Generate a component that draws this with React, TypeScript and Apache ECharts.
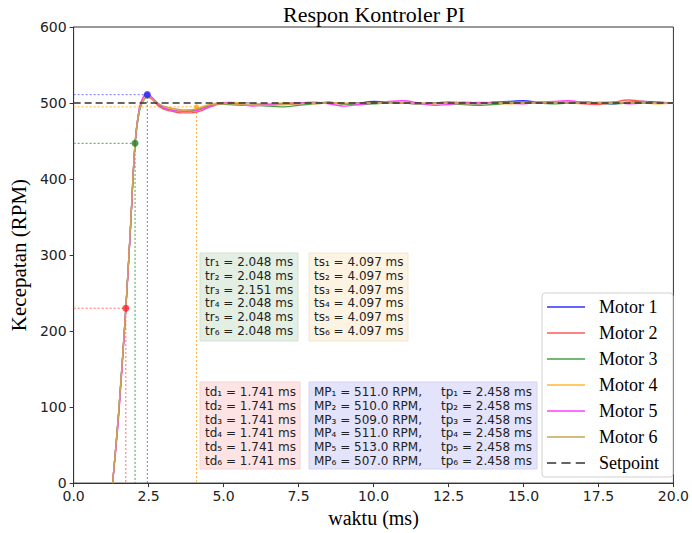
import { useEffect, useRef } from "react";
import * as echarts from "echarts";

// time axis (ms)
const TIME = [1.3, 1.5, 1.741, 1.9, 2.048, 2.2, 2.35, 2.458, 2.6, 2.8, 3.0, 3.3, 3.6, 3.9, 4.2, 4.5, 4.8, 5.2, 5.6, 6.0, 6.5, 7.0, 7.5, 8.0, 8.5, 9.0, 9.5, 10.0, 10.5, 11.0, 11.5, 12.0, 12.5, 13.0, 13.5, 14.0, 14.5, 15.0, 15.5, 16.0, 16.5, 17.0, 17.5, 18.0, 18.5, 19.0, 19.5, 20.0];

const MOTOR_1 = [0, 92, 230, 340, 447, 494, 508, 511, 507, 499, 494, 491, 490, 490, 492, 496, 499, 500, 500, 499, 498, 499, 500, 500, 501, 499, 500, 502, 501, 500, 499, 500, 501, 500, 499, 501, 502, 503, 501, 500, 500, 501, 500, 499, 501, 502, 501, 500];
const MOTOR_2 = [0, 90, 229, 338, 446, 492, 506, 510, 506, 497, 492, 489, 487, 487, 489, 494, 498, 500, 500, 499, 499, 498, 499, 500, 500, 499, 499, 500, 501, 500, 500, 499, 500, 501, 500, 499, 500, 501, 500, 501, 500, 499, 498, 501, 504, 502, 500, 500];
const MOTOR_3 = [0, 93, 231, 338, 444, 490, 505, 509, 506, 499, 494, 491, 490, 490, 493, 497, 499, 498, 497, 497, 496, 495, 497, 499, 500, 499, 498, 499, 500, 500, 499, 500, 499, 498, 497, 498, 500, 501, 500, 499, 500, 501, 500, 499, 500, 501, 500, 500];
const MOTOR_4 = [0, 91, 230, 339, 447, 493, 507, 511, 507, 500, 495, 492, 490, 491, 494, 498, 500, 501, 500, 499, 499, 500, 500, 499, 500, 500, 499, 500, 500, 501, 500, 499, 500, 500, 501, 500, 499, 500, 501, 500, 502, 501, 500, 500, 501, 500, 499, 500];
const MOTOR_5 = [0, 86, 228, 337, 446, 495, 510, 513, 508, 500, 494, 490, 489, 489, 491, 495, 499, 500, 498, 496, 498, 499, 500, 501, 499, 496, 498, 500, 502, 503, 500, 497, 498, 500, 500, 501, 500, 499, 501, 502, 503, 501, 500, 501, 499, 500, 501, 500];
const MOTOR_6 = [0, 92, 231, 341, 448, 492, 504, 507, 505, 500, 496, 493, 491, 491, 493, 497, 499, 499, 498, 497, 497, 498, 499, 500, 500, 499, 500, 500, 501, 500, 499, 500, 500, 499, 499, 500, 501, 500, 500, 501, 500, 500, 501, 501, 500, 501, 500, 500];

const MOTOR_NAMES = ["Motor 1", "Motor 2", "Motor 3", "Motor 4", "Motor 5", "Motor 6"];
const MOTOR_COLORS = ["#3030ff", "#ff5a5a", "#45a045", "#ffb833", "#ff40ff", "#c9a555"];
const SETPOINT = 500;

// characteristic points
const TD = 1.741;
const TD_Y = 230;
const TR = 2.048;
const TR_Y = 447;
const TP = 2.458;
const MP_Y = 511;
const TS = 4.097;
const TS_Y = 495;

const TR_VALUES = ["2.048", "2.048", "2.151", "2.048", "2.048", "2.048"];
const TS_VALUES = ["4.097", "4.097", "4.097", "4.097", "4.097", "4.097"];
const TD_VALUES = ["1.741", "1.741", "1.741", "1.741", "1.741", "1.741"];
const MP_VALUES = ["511.0", "510.0", "509.0", "511.0", "513.0", "507.0"];
const TP_VALUES = ["2.458", "2.458", "2.458", "2.458", "2.458", "2.458"];
const SUB = ["₁", "₂", "₃", "₄", "₅", "₆"];

const LINE_ICON = "path://M0,0H38V1.5H0Z";
const DASH_ICON = "path://M0,0H9V1.5H0Z M14,0H23V1.5H14Z M28,0H37V1.5H28Z";

export default function App() {
  const ref = useRef<HTMLDivElement>(null);
  useEffect(() => {
    document.body.style.margin = "0";
    const chart = echarts.init(ref.current!, undefined, { renderer: "svg" });
    const motors = [MOTOR_1, MOTOR_2, MOTOR_3, MOTOR_4, MOTOR_5, MOTOR_6];

    const helper = (pts: number[][], color: string) => ({
      type: "line",
      data: pts,
      symbol: "none",
      silent: true,
      lineStyle: { color, width: 1, type: [2, 2] },
      z: 1,
    });
    const dot = (x: number, y: number, color: string, size: number) => ({
      type: "scatter",
      data: [[x, y]],
      symbolSize: size,
      itemStyle: { color },
      silent: true,
      z: 5,
    });

    const boxText = (lines: string[], x: number, y: number) => ({
      type: "text",
      x,
      y,
      z: 10,
      style: {
        text: lines.join("\n"),
        fontFamily: "DejaVu Sans",
        fontSize: 12,
        lineHeight: 13.8,
        fill: "#222",
        align: "left",
        verticalAlign: "top",
      },
    });
    const boxRect = (x: number, y: number, w: number, h: number, fill: string, stroke: string) => ({
      type: "rect",
      z: 9,
      shape: { x, y, width: w, height: h },
      style: { fill, stroke, lineWidth: 1 },
    });

    chart.setOption({
      animation: false,
      grid: { left: 71, right: 15, top: 27, bottom: 43, show: true, borderColor: "#333", borderWidth: 1, backgroundColor: "transparent" },
      xAxis: {
        type: "value",
        min: 0,
        max: 20,
        interval: 2.5,
        name: "waktu (ms)",
        nameLocation: "middle",
        nameGap: 21,
        nameTextStyle: { fontFamily: "Liberation Serif", fontSize: 20, color: "#000" },
        axisLine: { show: true, onZero: false, lineStyle: { color: "#333", width: 1 } },
        axisTick: { show: true, length: 4, lineStyle: { color: "#333" } },
        axisLabel: { formatter: (v: number) => v.toFixed(1), fontFamily: "DejaVu Sans", fontSize: 14, color: "#222", margin: 6 },
        splitLine: { show: false },
      },
      yAxis: {
        type: "value",
        min: 0,
        max: 600,
        interval: 100,
        name: "Kecepatan (RPM)",
        nameLocation: "middle",
        nameGap: 34,
        nameTextStyle: { fontFamily: "Liberation Serif", fontSize: 21, color: "#000" },
        axisLine: { show: true, lineStyle: { color: "#333", width: 1 } },
        axisTick: { show: true, length: 4, lineStyle: { color: "#333" } },
        axisLabel: { fontFamily: "DejaVu Sans", fontSize: 14, color: "#222", margin: 7 },
        splitLine: { show: false },
      },
      legend: {
        orient: "vertical",
        left: 542,
        top: 293,
        padding: [5, 14, 5, 5],
        itemWidth: 38,
        itemHeight: 14,
        itemGap: 8,
        data: [
          ...MOTOR_NAMES.map((n) => ({ name: n, icon: LINE_ICON })),
          { name: "Setpoint", icon: DASH_ICON },
        ],
        textStyle: { fontFamily: "Liberation Serif", fontSize: 18, color: "#000", padding: [0, 0, 0, 9] },
        backgroundColor: "rgba(255,255,255,0.9)",
        borderColor: "#d0d0d0",
        borderWidth: 1,
        borderRadius: 3,
      },
      graphic: [
        {
          type: "text",
          x: 374,
          y: 3,
          style: { text: "Respon Kontroler PI", fontFamily: "Liberation Serif", fontSize: 22, fill: "#000", align: "center", verticalAlign: "top" },
        },
        boxRect(200, 253, 98, 88, "#e3efe3", "#d3e3d3"),
        boxText(TR_VALUES.map((v, i) => `tr${SUB[i]} = ${v} ms`), 205, 255),
        boxRect(309, 253, 99, 88, "#fdf3e3", "#f3e6d0"),
        boxText(TS_VALUES.map((v, i) => `ts${SUB[i]} = ${v} ms`), 314, 255),
        boxRect(200, 382, 100, 87, "#fde3e3", "#f3d3d3"),
        boxText(TD_VALUES.map((v, i) => `td${SUB[i]} = ${v} ms`), 205, 385),
        boxRect(309, 382, 228, 87, "#e3e3fb", "#d3d3f0"),
        boxText(MP_VALUES.map((v, i) => `MP${SUB[i]} = ${v} RPM,`), 314, 385),
        boxText(TP_VALUES.map((v, i) => `tp${SUB[i]} = ${v} ms`), 441, 385),
      ],
      series: [
        helper([[0, TD_Y], [TD, TD_Y], [TD, 0]], "rgba(255,60,60,0.75)"),
        helper([[0, TR_Y], [TR, TR_Y], [TR, 0]], "rgba(30,150,30,0.85)"),
        helper([[0, MP_Y], [TP, MP_Y], [TP, 0]], "rgba(60,60,255,0.7)"),
        helper([[0, TS_Y], [TS, TS_Y], [TS, 0]], "rgba(255,175,40,0.9)"),
        ...motors.map((m, i) => ({
          type: "line",
          name: MOTOR_NAMES[i],
          data: TIME.map((t, j) => [t, m[j]]),
          symbol: "none",
          smooth: 0.3,
          color: MOTOR_COLORS[i],
          lineStyle: { color: MOTOR_COLORS[i], width: 1.3 },
          z: 3,
        })),
        {
          type: "line",
          name: "Setpoint",
          data: [[0, SETPOINT], [20, SETPOINT]],
          symbol: "none",
          color: "#333",
          lineStyle: { color: "#333", width: 1.3, type: [7, 4] },
          z: 4,
        },
        dot(TD, TD_Y, "#ff2020", 7),
        dot(TR, TR_Y, "#208020", 7),
        dot(TP, MP_Y, "#2020ff", 7),
        dot(TS, TS_Y, "#ffa500", 5),
      ],
    });
    return () => chart.dispose();
  }, []);
  return <div ref={ref} style={{ width: 692, height: 533 }} />;
}
